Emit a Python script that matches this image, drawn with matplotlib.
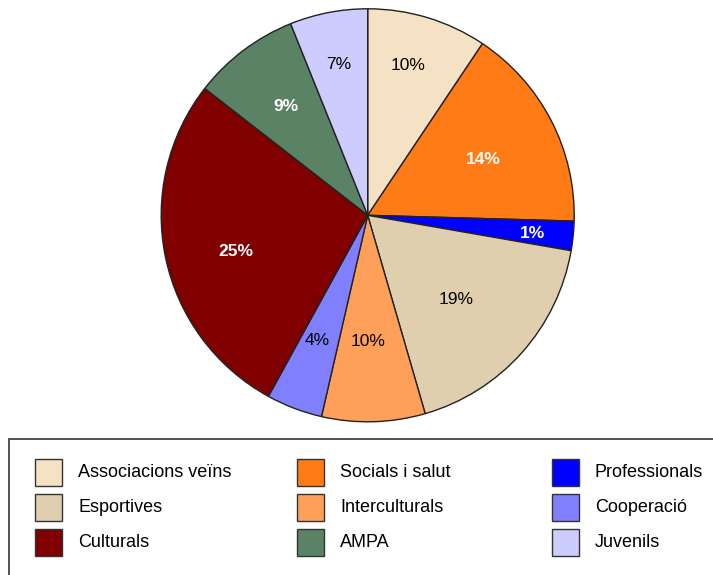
import numpy as np
import matplotlib
matplotlib.use('Agg')
import matplotlib.pyplot as plt
from matplotlib.patches import Rectangle

plt.rcParams['font.family'] = ['Liberation Sans', 'DejaVu Sans']

# dades del pastis (ordre horari des de les 12)
categories = ['Associacions veïns', 'Socials i salut', 'Professionals', 'Esportives',
              'Interculturals', 'Cooperació', 'Culturals', 'AMPA', 'Juvenils']
valors = [9.4, 16.1, 2.3, 17.8, 8.1, 4.4, 27.6, 8.4, 6.1]
etiquetes = ['10%', '14%', '1%', '19%', '10%', '4%', '25%', '9%', '7%']

colors = ['#F5E1C3', '#FF7B16', '#0000FF', '#E0CFAE', '#FFA05A',
          '#8080FF', '#800000', '#5A8264', '#CCCCFF']
text_blanc = [False, True, True, False, False, False, True, True, False]
# posicio de les etiquetes: radi relatiu i desplacament d'angle (graus)
radi_etiq = [0.754, 0.623, 0.804, 0.590, 0.612, 0.655, 0.663, 0.661, 0.742]
desp_etiq = [1.7, -1.4, -0.6, -1.7, -1.4, -1.0, 3.6, -0.2, 0.0]

W, H = 713, 575
fig = plt.figure(figsize=(W/100, H/100), dpi=100)

cx, cy, r = 367.7, 215.3, 206.5
ax = fig.add_axes([(cx-r)/W, (H-cy-r)/H, 2*r/W, 2*r/H])
wedges, _ = ax.pie(valors, colors=colors, startangle=90, counterclock=False,
                   radius=1, wedgeprops=dict(edgecolor='#222222', linewidth=1))
ax.set_xlim(-1, 1)
ax.set_ylim(-1, 1)
ax.set_aspect('auto')
ax.axis('off')

for i, w in enumerate(wedges):
    ang = np.deg2rad((w.theta1 + w.theta2) / 2 + desp_etiq[i])
    x = radi_etiq[i]*np.cos(ang)
    y = radi_etiq[i]*np.sin(ang)
    if text_blanc[i]:
        ax.text(x, y, etiquetes[i], ha='center', va='center', fontsize=12.5,
                color='white', fontweight='bold')
    else:
        ax.text(x, y, etiquetes[i], ha='center', va='center', fontsize=12.5,
                color='black')

# llegenda feta a ma (3 columnes, ordre per files)
fig.patches.append(Rectangle((9/W, -0.05), 1.0, (H-439)/H + 0.05, transform=fig.transFigure,
                             facecolor='white', edgecolor='#333333', linewidth=1.2))
col_x = [35, 297, 552]
fila_y = [472.7, 507.5, 542.5]
mida = 27
for i, nom in enumerate(categories):
    fila = i // 3
    col = i % 3
    x0 = col_x[col]
    y0 = fila_y[fila]
    fig.patches.append(Rectangle((x0/W, (H-y0-mida/2)/H), mida/W, mida/H,
                                 transform=fig.transFigure, facecolor=colors[i],
                                 edgecolor='#333333', linewidth=1))
    fig.text((x0+43)/W, (H-y0)/H, nom, ha='left', va='center', fontsize=13, color='black')

fig.savefig('out.png', dpi=100)
